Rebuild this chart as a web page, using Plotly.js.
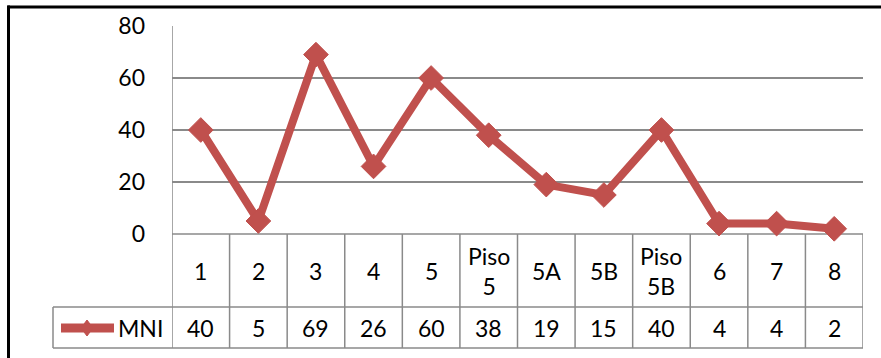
<!DOCTYPE html>
<html>
<head>
<meta charset="utf-8">
<script src="https://cdn.plot.ly/plotly-3.0.1.min.js"></script>
<style>html,body{margin:0;padding:0;background:#fff;}#chart{width:881px;height:358px;}</style>
</head>
<body>
<div id="chart"></div>
<script>
const categories = ['1','2','3','4','5','Piso 5','5A','5B','Piso 5B','6','7','8'];
const mni = [40, 5, 69, 26, 60, 38, 19, 15, 40, 4, 4, 2];
const yTicks = [0, 20, 40, 60, 80];
const seriesName = 'MNI';

const W = 881, H = 358;
const L = 172, R = 863, T = 26, B = 234;
const PW = R - L, PH = B - T;
const px = p => (p - L) / PW;
const py = p => (B - p) / PH;

const red = '#C0504D';
const grid = '#8a8a8a';
const font = {family: 'Lato, Liberation Sans, Arial, sans-serif', size: 23, color: '#000'};

const rowTop = 234, rowMid = 307, rowBot = 348, legLeft = 53;

const shapes = [];
// table vertical lines
for (let i = 0; i <= categories.length; i++) {
  shapes.push({type: 'line', xref: 'x', yref: 'paper', x0: i - 0.5, x1: i - 0.5,
    y0: py(rowBot), y1: i === 0 ? 1 : 0, line: {color: grid, width: 1.5}, layer: 'below'});
}
// table horizontal lines
shapes.push({type: 'line', xref: 'paper', yref: 'paper', x0: 0, x1: 1, y0: 0, y1: 0, line: {color: grid, width: 1.5}, layer: 'below'});
shapes.push({type: 'line', xref: 'paper', yref: 'paper', x0: px(legLeft), x1: 1, y0: py(rowMid), y1: py(rowMid), line: {color: grid, width: 1.5}, layer: 'below'});
shapes.push({type: 'line', xref: 'paper', yref: 'paper', x0: px(legLeft), x1: 1, y0: py(rowBot), y1: py(rowBot), line: {color: grid, width: 1.5}, layer: 'below'});
shapes.push({type: 'line', xref: 'paper', yref: 'paper', x0: px(legLeft), x1: px(legLeft), y0: py(rowBot), y1: py(rowMid), line: {color: grid, width: 1.5}, layer: 'below'});
// outer black frame
shapes.push({type: 'line', xref: 'paper', yref: 'paper', x0: px(7.5), x1: px(W + 5), y0: py(7), y1: py(7), line: {color: '#000', width: 3}});
shapes.push({type: 'line', xref: 'paper', yref: 'paper', x0: px(8.5), x1: px(8.5), y0: py(5.5), y1: py(H + 5), line: {color: '#000', width: 3}});
// legend key
shapes.push({type: 'line', xref: 'paper', yref: 'paper', x0: px(61), x1: px(114), y0: py(328), y1: py(328), line: {color: red, width: 9}});
shapes.push({type: 'path', xref: 'paper', yref: 'paper', xsizemode: 'pixel', ysizemode: 'pixel',
  xanchor: px(87), yanchor: py(328), path: 'M0,-8 L6,0 L0,8 L-6,0 Z', fillcolor: red, line: {color: red, width: 1}});

const annotations = [];
categories.forEach((c, i) => {
  annotations.push({x: i, xref: 'x', y: py((rowTop + rowMid) / 2), yref: 'paper', text: c.replace(' ', '<br>'),
    showarrow: false, font: font, xanchor: 'center', yanchor: 'middle'});
  annotations.push({x: i, xref: 'x', y: py((rowMid + rowBot) / 2), yref: 'paper', text: String(mni[i]),
    showarrow: false, font: font, xanchor: 'center', yanchor: 'middle'});
});
annotations.push({x: px(116), xref: 'paper', y: py((rowMid + rowBot) / 2), yref: 'paper', text: seriesName,
  showarrow: false, font: font, xanchor: 'left', yanchor: 'middle'});

const trace = {
  type: 'scatter', mode: 'lines+markers', name: seriesName,
  x: categories, y: mni,
  line: {color: red, width: 8},
  marker: {symbol: 'diamond', size: 19, color: red, line: {color: red, width: 1}},
  cliponaxis: false
};

const layout = {
  width: W, height: H,
  margin: {l: L, r: W - R, t: T, b: H - B, pad: 0},
  paper_bgcolor: '#fff', plot_bgcolor: '#fff',
  showlegend: false,
  xaxis: {type: 'category', range: [-0.5, categories.length - 0.5], showticklabels: false, showgrid: false,
    zeroline: false, showline: false, ticks: '', fixedrange: true},
  yaxis: {range: [0, 80], tickvals: yTicks, showgrid: true, gridcolor: grid, gridwidth: 1.5, zeroline: false,
    showline: false, ticks: '', tickfont: font, ticklabelstandoff: 26, fixedrange: true},
  shapes: shapes,
  annotations: annotations
};

Plotly.newPlot('chart', [trace], layout, {displayModeBar: false, staticPlot: true});
</script>
</body>
</html>
